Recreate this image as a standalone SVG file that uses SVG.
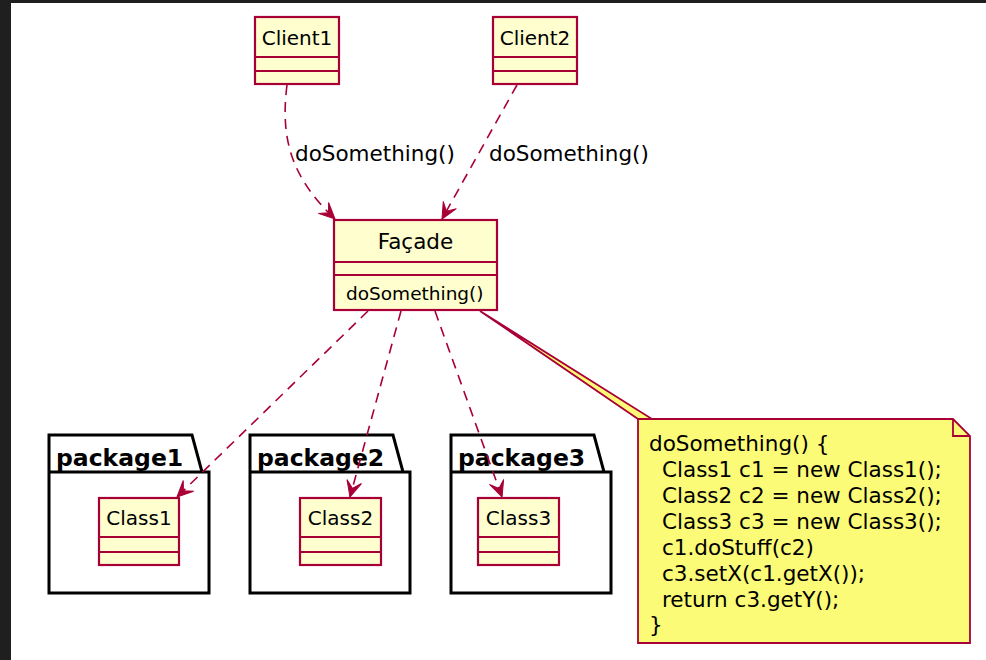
<svg xmlns="http://www.w3.org/2000/svg" width="986" height="660" viewBox="0 0 986 660">
<defs>
<style>
.cls{fill:#FEFECE;stroke:#A80036;stroke-width:2.2}
.sep{stroke:#A80036;stroke-width:2;fill:none}
.cname{font-family:"DejaVu Sans",sans-serif;font-size:20px;fill:#000;text-anchor:middle}
.member{font-family:"DejaVu Sans",sans-serif;font-size:18.5px;fill:#000}
.pkg{fill:none;stroke:#000;stroke-width:3;stroke-linejoin:miter}
.pname{font-family:"DejaVu Sans",sans-serif;font-weight:bold;font-size:23.5px;fill:#000}
.edge{fill:none;stroke:#A80036;stroke-width:1.6;stroke-dasharray:10,7}
.elabel{font-family:"DejaVu Sans",sans-serif;font-size:21.5px;fill:#000}
.note{fill:#FBFB77;stroke:#A80036;stroke-width:1.8}
.ntext{font-family:"DejaVu Sans",sans-serif;font-size:21.5px;fill:#000}
</style>
<marker id="arr" markerUnits="userSpaceOnUse" viewBox="-17 -9 18 18" refX="0" refY="0" markerWidth="18" markerHeight="18" orient="auto">
<path d="M0,0 L-16,-7.5 L-9,0 L-16,7.5 Z" fill="#A80036" stroke="#A80036" stroke-width="1"/>
</marker>
</defs>
<rect x="0" y="0" width="986" height="660" fill="#ffffff"/>
<rect x="0" y="0" width="986" height="3" fill="#1f1f1f"/>
<rect x="0" y="0" width="11" height="660" fill="#1f1f1f"/>

<g id="package1">
<path class="pkg" d="M49,435 L192,435 L202,472 L209,472 L209,593 L49,593 Z M49,472 L202,472"/>
<text class="pname" x="56" y="466">package1</text>
</g>
<g id="package2">
<path class="pkg" d="M250,435 L393,435 L403,472 L410,472 L410,593 L250,593 Z M250,472 L403,472"/>
<text class="pname" x="257" y="466">package2</text>
</g>
<g id="package3">
<path class="pkg" d="M451,435 L594,435 L604,472 L611,472 L611,593 L451,593 Z M451,472 L604,472"/>
<text class="pname" x="458" y="466">package3</text>
</g>

<g id="Client1">
<rect class="cls" x="255" y="17" width="84" height="67"/>
<path class="sep" d="M255,57 H339 M255,71 H339"/>
<text class="cname" x="297" y="45">Client1</text>
</g>
<g id="Client2">
<rect class="cls" x="493" y="17" width="84" height="67"/>
<path class="sep" d="M493,57 H577 M493,71 H577"/>
<text class="cname" x="535" y="45">Client2</text>
</g>
<g id="Facade">
<rect class="cls" x="334" y="220" width="163" height="90"/>
<path class="sep" d="M334,262 H497 M334,275 H497"/>
<text class="cname" x="415.5" y="249" style="font-size:21.5px">Façade</text>
<text class="member" x="346" y="300">doSomething()</text>
</g>
<g id="Class1">
<rect class="cls" x="99" y="498" width="80" height="67"/>
<path class="sep" d="M99,537 H179 M99,552 H179"/>
<text class="cname" x="139" y="525">Class1</text>
</g>
<g id="Class2">
<rect class="cls" x="300" y="498" width="81" height="67"/>
<path class="sep" d="M300,537 H381 M300,552 H381"/>
<text class="cname" x="340.5" y="525">Class2</text>
</g>
<g id="Class3">
<rect class="cls" x="478" y="498" width="81" height="67"/>
<path class="sep" d="M478,537 H559 M478,552 H559"/>
<text class="cname" x="518.5" y="525">Class3</text>
</g>

<g id="connectors">
<path class="edge" d="M287,85 C280,140 292,178 335,219" marker-end="url(#arr)"/>
<path class="edge" d="M517,85 L442,219" marker-end="url(#arr)"/>
<path class="edge" d="M368,311 L177,497" marker-end="url(#arr)"/>
<path class="edge" d="M401,311 L350,497" marker-end="url(#arr)"/>
<path class="edge" d="M435,311 L502,497" marker-end="url(#arr)"/>
<text class="elabel" x="295" y="161">doSomething()</text>
<text class="elabel" x="489" y="161">doSomething()</text>
</g>

<g id="note">
<polygon class="note" points="638,419 480,311 652,419"/>
<path class="note" d="M638,419 L953,419 L970,436 L970,643 L638,643 Z"/>
<path d="M953,419 L953,436 L970,436" fill="none" stroke="#A80036" stroke-width="1.8"/>
<text class="ntext" x="649" y="451">doSomething() {</text>
<text class="ntext" x="662" y="477">Class1 c1 = new Class1();</text>
<text class="ntext" x="662" y="503">Class2 c2 = new Class2();</text>
<text class="ntext" x="662" y="529">Class3 c3 = new Class3();</text>
<text class="ntext" x="662" y="555">c1.doStuff(c2)</text>
<text class="ntext" x="662" y="581">c3.setX(c1.getX());</text>
<text class="ntext" x="662" y="607">return c3.getY();</text>
<text class="ntext" x="649" y="632">}</text>
</g>
</svg>
